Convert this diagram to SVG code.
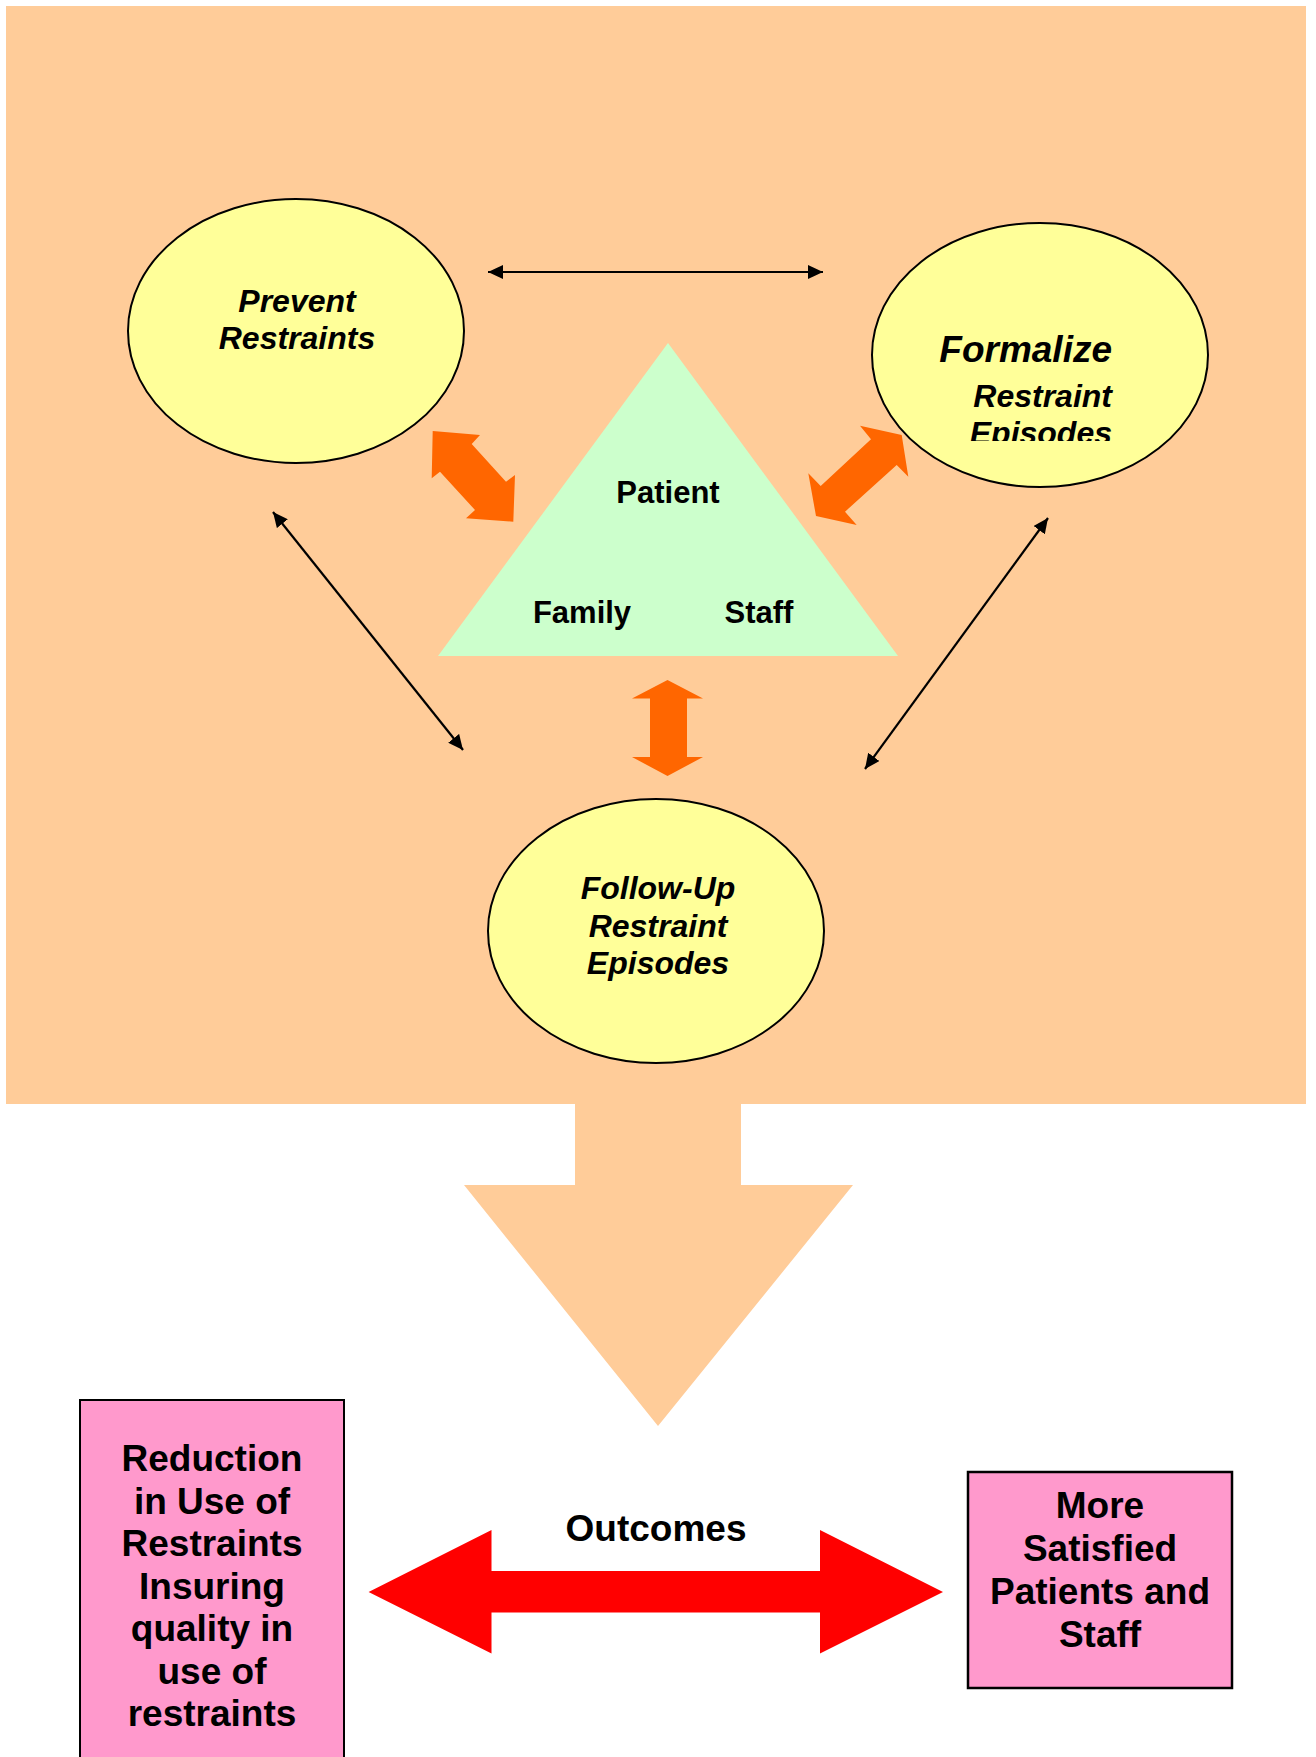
<svg xmlns="http://www.w3.org/2000/svg" width="1316" height="1757" viewBox="0 0 1316 1757">
<defs>
<style>
.oval{fill:#FFFF99;stroke:#000;stroke-width:2}
.ti{font-family:"Liberation Sans",Arial,sans-serif;font-weight:bold;font-style:italic;font-size:32px;fill:#000}
.tb{font-family:"Liberation Sans",Arial,sans-serif;font-weight:bold;font-size:31px;fill:#000}
.tc{font-family:"Liberation Sans",Arial,sans-serif;font-weight:bold;font-size:37px;fill:#000;text-anchor:middle}
.conn{stroke:#000;stroke-width:2.2;fill:none;marker-start:url(#ah);marker-end:url(#ah)}
.fat{fill:#FF6600}
.box{fill:#FF99CC;stroke:#000}
</style>
<marker id="ah" viewBox="0 0 15 14" refX="15" refY="7" markerWidth="15" markerHeight="14" markerUnits="userSpaceOnUse" orient="auto-start-reverse">
<path d="M0,0 L15,7 L0,14 z" fill="#000"/>
</marker>
<clipPath id="fclip"><rect x="860" y="200" width="360" height="241"/></clipPath>
</defs>
<rect x="0" y="0" width="1316" height="1757" fill="#FFFFFF"/>
<g id="background">
<rect x="6" y="6" width="1300" height="1098" fill="#FFCC99"/>
<polygon points="575,1104 741,1104 741,1185 853,1185 658,1426 464,1185 575,1185" fill="#FFCC99"/>
</g>
<g id="triangle">
<polygon points="668,343 898,656 438,656" fill="#CCFFCC"/>
<text class="tb" x="668" y="503" text-anchor="middle">Patient</text>
<text class="tb" x="582" y="623" text-anchor="middle">Family</text>
<text class="tb" x="759" y="623" text-anchor="middle">Staff</text>
</g>
<g id="prevent">
<ellipse class="oval" cx="296" cy="331" rx="168" ry="132"/>
<text class="ti" x="297" y="312" text-anchor="middle">Prevent</text>
<text class="ti" x="297" y="349" text-anchor="middle">Restraints</text>
</g>
<g id="formalize">
<ellipse class="oval" cx="1040" cy="355" rx="168" ry="132"/>
<g clip-path="url(#fclip)">
<text class="ti" x="1112" y="362" text-anchor="end" style="font-size:37px">Formalize</text>
<text class="ti" x="1112" y="407" text-anchor="end">Restraint</text>
<text class="ti" x="1112" y="444" text-anchor="end">Episodes</text>
</g>
</g>
<g id="followup">
<ellipse class="oval" cx="656" cy="931" rx="168" ry="132"/>
<text class="ti" x="658" y="899" text-anchor="middle">Follow-Up</text>
<text class="ti" x="658" y="937" text-anchor="middle">Restraint</text>
<text class="ti" x="658" y="974" text-anchor="middle">Episodes</text>
</g>
<g id="connectors">
<line class="conn" x1="488" y1="272" x2="823" y2="272"/>
<line class="conn" x1="273" y1="512" x2="463" y2="750"/>
<line class="conn" x1="1048" y1="518" x2="865" y2="769"/>
<polygon class="fat" points="432.7,431 480,435 471.7,444 506,481.7 515,475 513.3,521.7 466,518.3 475,510 440,471.7 431.7,478.3"/>
<polygon class="fat" points="901.7,435 908.3,476.7 896.7,465 845,511.7 856.7,525 816,516 808.3,473.3 820.7,486 871,439.3 860,425.7"/>
<polygon class="fat" points="667.5,680 703,698.5 687,698.5 687,757 703,757 667.5,776 632,757 650,757 650,698.5 632,698.5"/>
<polygon fill="#FF0000" points="368.6,1592 491.5,1530 491.5,1571 820,1571 820,1530 943,1592 820,1653.5 820,1612.5 491.5,1612.5 491.5,1653.5"/>
</g>
<g id="outcomes-label">
<text class="tc" x="656" y="1541">Outcomes</text>
</g>
<g id="reduction">
<rect class="box" x="80" y="1400" width="264" height="370" stroke-width="2"/>
<text class="tc" x="212" y="1471">Reduction</text>
<text class="tc" x="212" y="1513.5">in Use of</text>
<text class="tc" x="212" y="1556">Restraints</text>
<text class="tc" x="212" y="1598.5">Insuring</text>
<text class="tc" x="212" y="1641">quality in</text>
<text class="tc" x="212" y="1683.5">use of</text>
<text class="tc" x="212" y="1726">restraints</text>
</g>
<g id="satisfied">
<rect class="box" x="968" y="1472" width="264" height="216" stroke-width="2.5"/>
<text class="tc" x="1100" y="1518">More</text>
<text class="tc" x="1100" y="1561">Satisfied</text>
<text class="tc" x="1100" y="1604">Patients and</text>
<text class="tc" x="1100" y="1647">Staff</text>
</g>
</svg>
